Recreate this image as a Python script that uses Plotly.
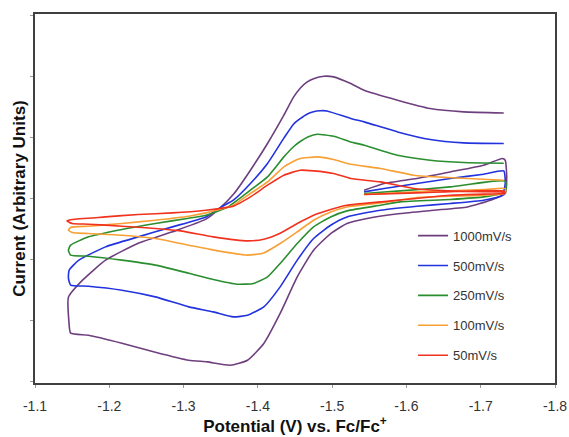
import plotly.graph_objects as go

# Potential (V vs Fc/Fc+) and current (arbitrary units)
x_1000 = [-1.543, -1.570, -1.614, -1.659, -1.704, -1.729, -1.733, -1.735, -1.733,
          -1.713, -1.682, -1.637, -1.592, -1.547, -1.520, -1.498, -1.475, -1.453, -1.430,
          -1.408, -1.386, -1.363, -1.332, -1.307, -1.262, -1.217, -1.172, -1.148,
          -1.1455, -1.145, -1.164, -1.195, -1.239, -1.285, -1.330, -1.350, -1.368, -1.390,
          -1.413, -1.435, -1.448, -1.457, -1.466, -1.475, -1.489, -1.502, -1.525, -1.543,
          -1.588, -1.632, -1.677, -1.731]
y_1000 = [0.131, 0.241, 0.323, 0.431, 0.541, 0.651, 0.623, 0.349, 0.077,
          -0.033, -0.143, -0.197, -0.251, -0.333, -0.415, -0.579, -0.852, -1.290, -1.890,
          -2.382, -2.656, -2.738, -2.684, -2.656, -2.525, -2.377, -2.246, -2.213,
          -2.000, -1.623, -1.344, -1.016, -0.738, -0.552, -0.344, -0.150, 0.077, 0.459,
          0.897, 1.361, 1.656, 1.803, 1.902, 1.959, 2.000, 1.989, 1.880, 1.770,
          1.607, 1.470, 1.415, 1.398]

x_500 = [-1.543, -1.570, -1.614, -1.659, -1.704, -1.731, -1.733, -1.729,
         -1.704, -1.659, -1.614, -1.565, -1.520, -1.498, -1.475, -1.453, -1.430, -1.408,
         -1.386, -1.367, -1.340, -1.307, -1.262, -1.217, -1.172, -1.148,
         -1.145, -1.146, -1.159, -1.195, -1.239, -1.285, -1.330, -1.350, -1.367, -1.390,
         -1.413, -1.435, -1.448, -1.457, -1.466, -1.475, -1.484, -1.493, -1.525, -1.543,
         -1.588, -1.632, -1.677, -1.731]
y_500 = [0.103, 0.159, 0.241, 0.323, 0.393, 0.448, 0.241, 0.049,
         -0.033, -0.087, -0.131, -0.197, -0.307, -0.443, -0.661, -1.016, -1.454, -1.782,
         -1.918, -1.946, -1.864, -1.782, -1.618, -1.508, -1.443, -1.426,
         -1.311, -1.180, -1.016, -0.798, -0.634, -0.470, -0.307, -0.150, -0.033, 0.241,
         0.569, 0.984, 1.213, 1.303, 1.377, 1.418, 1.434, 1.431, 1.307, 1.251,
         1.087, 0.962, 0.907, 0.897]

x_250 = [-1.543, -1.592, -1.659, -1.733, -1.733,
         -1.704, -1.659, -1.592, -1.565, -1.520, -1.498, -1.475, -1.453, -1.430, -1.413,
         -1.394, -1.372, -1.340, -1.307, -1.262, -1.217, -1.172, -1.148,
         -1.145, -1.148, -1.172, -1.217, -1.262, -1.307, -1.330, -1.359, -1.367, -1.390,
         -1.413, -1.435, -1.448, -1.457, -1.468, -1.480, -1.502, -1.525, -1.543, -1.588,
         -1.632, -1.677, -1.731]
y_250 = [0.077, 0.120, 0.185, 0.279, 0.103,
         0.021, -0.021, -0.061, -0.115, -0.208, -0.307, -0.470, -0.743, -1.070, -1.290,
         -1.398, -1.410, -1.333, -1.230, -1.098, -1.016, -0.951, -0.934,
         -0.852, -0.770, -0.634, -0.513, -0.415, -0.328, -0.279, -0.150, -0.082, 0.131,
         0.349, 0.677, 0.844, 0.930, 1.008, 1.049, 1.016, 0.923, 0.869, 0.705,
         0.623, 0.585, 0.574]

x_100 = [-1.543, -1.614, -1.704, -1.733, -1.733,
         -1.704, -1.614, -1.565, -1.520, -1.498, -1.475, -1.453, -1.430, -1.408, -1.386,
         -1.341, -1.307, -1.262, -1.217, -1.172, -1.150,
         -1.145, -1.148, -1.172, -1.217, -1.262, -1.307, -1.330, -1.359, -1.367, -1.390,
         -1.413, -1.435, -1.447, -1.457, -1.480, -1.502, -1.525, -1.565, -1.610, -1.655,
         -1.731]
y_100 = [0.061, 0.103, 0.143, 0.159, 0.082,
         0.049, 0.011, -0.077, -0.143, -0.225, -0.361, -0.552, -0.743, -0.897, -0.934,
         -0.852, -0.770, -0.661, -0.607, -0.579, -0.562,
         -0.525, -0.480, -0.459, -0.415, -0.361, -0.295, -0.241, -0.150, -0.115, 0.077,
         0.267, 0.513, 0.598, 0.651, 0.677, 0.634, 0.557, 0.487, 0.377, 0.339,
         0.295]

x_50 = [-1.543, -1.614, -1.731, -1.733,
        -1.731, -1.659, -1.565, -1.520, -1.498, -1.475, -1.453, -1.430, -1.408, -1.386,
        -1.340, -1.296, -1.262, -1.217, -1.172, -1.150,
        -1.143, -1.150, -1.195, -1.239, -1.285, -1.330, -1.359, -1.367, -1.390, -1.413,
        -1.435, -1.457, -1.475, -1.502, -1.525, -1.565, -1.610, -1.655, -1.731]
y_50 = [0.061, 0.087, 0.120, 0.082,
        0.077, 0.049, -0.061, -0.115, -0.185, -0.279, -0.415, -0.574, -0.672, -0.700,
        -0.634, -0.536, -0.497, -0.459, -0.426, -0.415,
        -0.372, -0.349, -0.307, -0.267, -0.241, -0.197, -0.150, -0.131, 0.021, 0.213,
        0.377, 0.459, 0.448, 0.405, 0.323, 0.267, 0.159, 0.120, 0.103]

series_names = ["1000mV/s", "500mV/s", "250mV/s", "100mV/s", "50mV/s"]
series_x = [x_1000, x_500, x_250, x_100, x_50]
series_y = [y_1000, y_500, y_250, y_100, y_50]
colors = ["#6E3F7E", "#2233DD", "#2A8E2F", "#F7A035", "#F0321E"]

x_tick_vals = [-1.1, -1.2, -1.3, -1.4, -1.5, -1.6, -1.7, -1.8]
x_tick_text = ["-1.1", "-1.2", "-1.3", "-1.4", "-1.5", "-1.6", "-1.7", "-1.8"]

fig = go.Figure()
for name, xs, ys, c in zip(series_names, series_x, series_y, colors):
    fig.add_trace(go.Scatter(
        x=xs, y=ys, mode="lines", name=name, legendgroup=name,
        line=dict(color=c, width=1.6, shape="spline", smoothing=0.5),
    ))

fig.update_layout(
    width=569, height=437,
    margin=dict(l=35, r=14, t=14, b=54),
    paper_bgcolor="white", plot_bgcolor="white",
    font=dict(family="Liberation Sans, Arial, sans-serif", color="#222"),
    showlegend=True,
    legend=dict(
        x=0.727, y=0.44, xanchor="left", yanchor="top",
        bgcolor="rgba(0,0,0,0)", font=dict(size=13, color="#333"),
        itemwidth=30, tracegroupgap=10,
    ),
)
fig.update_xaxes(
    range=[-1.1, -1.8], tickvals=x_tick_vals, ticktext=x_tick_text,
    automargin=False,
    showgrid=False, zeroline=False,
    showline=True, mirror=True, linecolor="#404040", linewidth=2,
    ticks="outside", ticklen=3, tickcolor="#999", ticklabelstandoff=6,
    tickfont=dict(size=14, color="#333"),
    title=dict(text="<b>Potential (V) vs. Fc/Fc<sup>+</sup></b>",
               font=dict(size=17, color="#111"), standoff=4),
)
fig.update_yaxes(
    range=[-3.03, 3.02], dtick=1, tick0=0, showticklabels=False,
    automargin=False,
    showgrid=False, zeroline=False,
    showline=True, mirror=True, linecolor="#404040", linewidth=2,
    ticks="outside", ticklen=3, tickcolor="#999",
    title=dict(text="<b>Current (Arbitrary Units)</b>",
               font=dict(size=17, color="#111"), standoff=0),
)

fig.write_html("out.html", config={"displayModeBar": False},
               post_script="document.body.style.margin='0';")
